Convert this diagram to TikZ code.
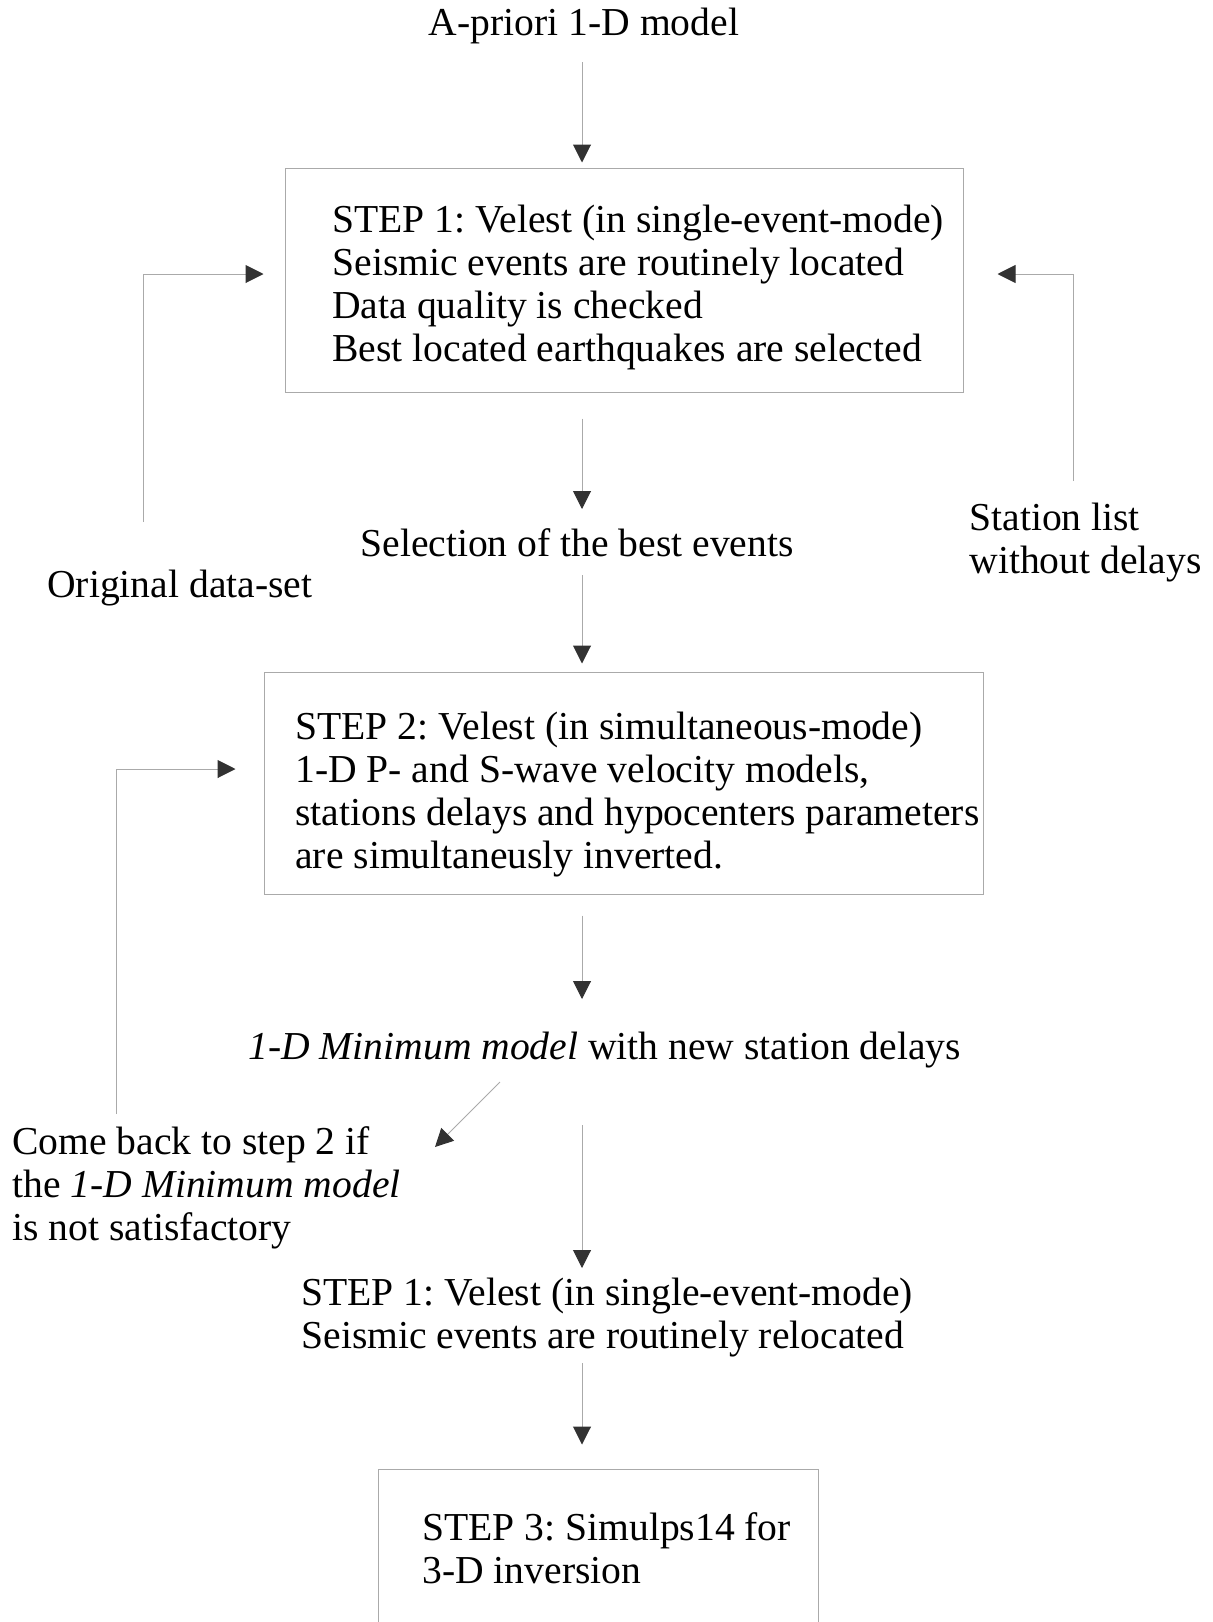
\documentclass[tikz,border=0pt]{standalone}
\usepackage{fontspec}
\setmainfont{Liberation Serif}
\frenchspacing
\usetikzlibrary{calc,arrows.meta,positioning}

\definecolor{linegray}{RGB}{170,170,170}
\definecolor{tipgray}{RGB}{50,50,50}

\begin{document}
\begin{tikzpicture}[x=0.5pt,y=0.5pt,yscale=-1,xscale=1,
  box/.style = {draw=linegray, line width=0.5pt, inner sep=0pt},
  txt/.style = {font=\fontsize{19.8}{21.5}\selectfont, inner sep=0pt,
  align=left, anchor=base west},
  arr/.style = {draw=linegray, line width=0.5pt,
  -{Triangle[length=9pt,width=9pt,color=tipgray]}}
  ]

  \useasboundingbox (0,0) rectangle (1213,1622);
  \coordinate (spine) at (582,0);

  % boxes
  \node[box, minimum width=339pt, minimum height=112pt] (step1box) at (624,280) {};
  \node[box, minimum width=359.5pt, minimum height=111pt] (step2box) at (623.5,783) {};
  \node[box, minimum width=220pt, minimum height=105.5pt] (step3box) at (598,1574.5) {};

  % texts (base = last line)
  \node[txt, anchor=base] (apriori) at (584,35) {A-priori 1-D model};
  \node[txt] (step1) at (332,361) {STEP 1: Velest (in single-event-mode)\\
    Seismic events are routinely located\\
    Data quality is checked\\
    Best located earthquakes are selected};
  \node[txt] (select) at (360,556) {Selection of the best events};
  \node[txt] (orig) at (47,597) {Original data-set};
  \node[txt] (station) at (969,573) {Station list\\ without delays};
  \node[txt] (step2) at (295,868) {STEP 2: Velest (in simultaneous-mode)\\
    1-D P- and S-wave velocity models,\\
    stations delays and hypocenters parameters\\
    are simultaneusly inverted.};
  \node[txt] (minmodel) at (248,1059) {\textit{1-D Minimum model} with new station delays};
  \node[txt] (comeback) at (12,1240) {Come back to step 2 if\\
    the \textit{1-D Minimum model}\\
    is not satisfactory};
  \node[txt] (reloc) at (301,1348) {STEP 1: Velest (in single-event-mode)\\
    Seismic events are routinely relocated};
  \node[txt] (step3) at (422,1583) {STEP 3: Simulps14 for\\ 3-D inversion};

  % main chain
  \draw[arr] ($(apriori.base -| spine)+(0,27)$) -- ($(step1box.north -| spine)+(0,-5)$);
  \draw[arr] ($(step1box.south -| spine)+(0,26)$) -- ($(select.base -| spine)+(0,-47)$);
  \draw[arr] ($(select.base -| spine)+(0,19)$) -- ($(step2box.north -| spine)+(0,-8)$);
  \draw[arr] ($(step2box.south -| spine)+(0,21)$) -- ($(minmodel.base -| spine)+(0,-60)$);
  \draw[arr] ($(minmodel.base -| spine)+(0,66)$) -- ($(reloc.base -| spine)+(0,-80)$);
  \draw[arr] ($(reloc.base -| spine)+(0,15)$) -- ($(step3box.north -| spine)+(0,-24)$);

  % loops
  \draw[arr] ($(orig.base west)+(96,-75)$) |- ($(step1box.west)+(-21,-6)$);
  \draw[arr] ($(station.base west)+(104,-92)$) |- ($(step1box.east)+(34,-6)$);
  \draw[arr] ($(comeback.base west)+(104,-126)$) |- ($(step2box.west)+(-28,-14)$);
  \draw[arr] ($(minmodel.base west)+(252,23)$) -- ($(comeback.base west)+(423,-93)$);

\end{tikzpicture}
\end{document}
